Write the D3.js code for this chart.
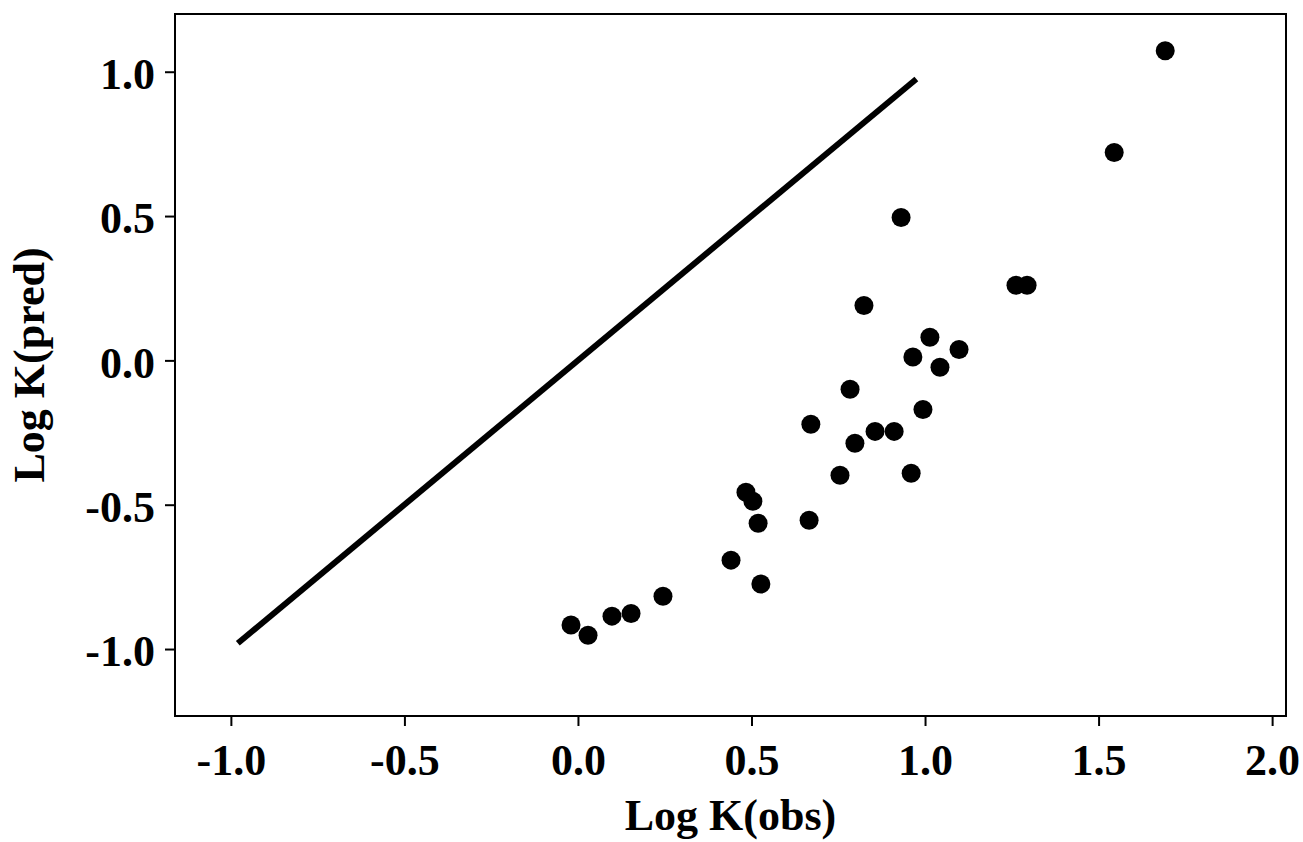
<!DOCTYPE html>
<html>
<head>
<meta charset="utf-8">
<style>
  body { margin: 0; background: #fff; }
  text { font-family: "Liberation Serif", "Times New Roman", serif; font-weight: bold; }
</style>
</head>
<body>
<script src="https://cdn.jsdelivr.net/npm/d3@7"></script>
<script>

// observed vs predicted log K
var logObs  = [-0.020, 0.029, 0.098, 0.153, 0.245, 0.441, 0.484, 0.504, 0.519, 0.527,
               0.666, 0.671, 0.755, 0.784, 0.798, 0.824, 0.856, 0.911, 0.931, 0.960,
               0.965, 0.994, 1.014, 1.043, 1.098, 1.262, 1.294, 1.545, 1.692];
var logPred = [-0.917, -0.952, -0.886, -0.877, -0.817, -0.692, -0.457, -0.488, -0.564, -0.775,
               -0.554, -0.221, -0.398, -0.100, -0.287, 0.190, -0.246, -0.246, 0.495, -0.391,
               0.012, -0.170, 0.080, -0.024, 0.038, 0.260, 0.260, 0.720, 1.073];

// y = x reference line
var idLine = [-0.98, 0.975];

var xTicks = [-1.0, -0.5, 0.0, 0.5, 1.0, 1.5, 2.0];
var yTicks = [-1.0, -0.5, 0.0, 0.5, 1.0];

var W = 1303, H = 842;
var margin = {top: 14, right: 17, bottom: 126, left: 175};

var svg = d3.select('body').append('svg')
	.attr('width', W)
	.attr('height', H);

var x = d3.scaleLinear()
	.domain([-1.161, 2.04])
	.range([margin.left, W - margin.right]);

var y = d3.scaleLinear()
	.domain([-1.232, 1.2])
	.range([H - margin.bottom, margin.top]);

var f = d3.format('.1f');
var fmt = d => f(d).replace('−', '-');

function styleTicks(g) {
	g.select('.domain').remove();
	g.selectAll('.tick line').attr('stroke-width', 2);
	g.selectAll('.tick text')
		.attr('font-size', 44)
		.attr('font-family', '"Liberation Serif", serif')
		.attr('font-weight', 'bold')
		.attr('fill', 'black');
}

// frame
svg.append('rect')
	.attr('x', margin.left).attr('y', margin.top)
	.attr('width', W - margin.left - margin.right)
	.attr('height', H - margin.top - margin.bottom)
	.attr('fill', 'none')
	.attr('stroke', 'black')
	.attr('stroke-width', 2);

// axes
svg.append('g')
	.attr('transform', `translate(0,${H - margin.bottom})`)
	.call(d3.axisBottom(x).tickValues(xTicks).tickFormat(fmt).tickSize(10).tickPadding(18))
	.call(styleTicks);

svg.append('g')
	.attr('transform', `translate(${margin.left},0)`)
	.call(d3.axisLeft(y).tickValues(yTicks).tickFormat(fmt).tickSize(10).tickPadding(10))
	.call(styleTicks)
	.call(g => g.selectAll('.tick text').attr('dy', '0.38em'));

// axis titles
svg.append('text')
	.attr('x', (x.range()[0] + x.range()[1]) / 2)
	.attr('y', 830)
	.attr('text-anchor', 'middle')
	.attr('font-size', 44)
	.text('Log K(obs)');

svg.append('text')
	.attr('transform', `translate(44,${(y.range()[0] + y.range()[1]) / 2}) rotate(-90)`)
	.attr('text-anchor', 'middle')
	.attr('font-size', 44)
	.text('Log K(pred)');

// identity line
svg.append('line')
	.attr('x1', x(idLine[0])).attr('y1', y(idLine[0]))
	.attr('x2', x(idLine[1])).attr('y2', y(idLine[1]))
	.attr('stroke', 'black')
	.attr('stroke-width', 6);

// points
svg.append('g')
	.selectAll('circle')
	.data(logObs.map((d, i) => [d, logPred[i]]))
	.join('circle')
		.attr('cx', d => x(d[0]))
		.attr('cy', d => y(d[1]))
		.attr('r', 9.5)
		.attr('fill', 'black');

</script>
</body>
</html>
